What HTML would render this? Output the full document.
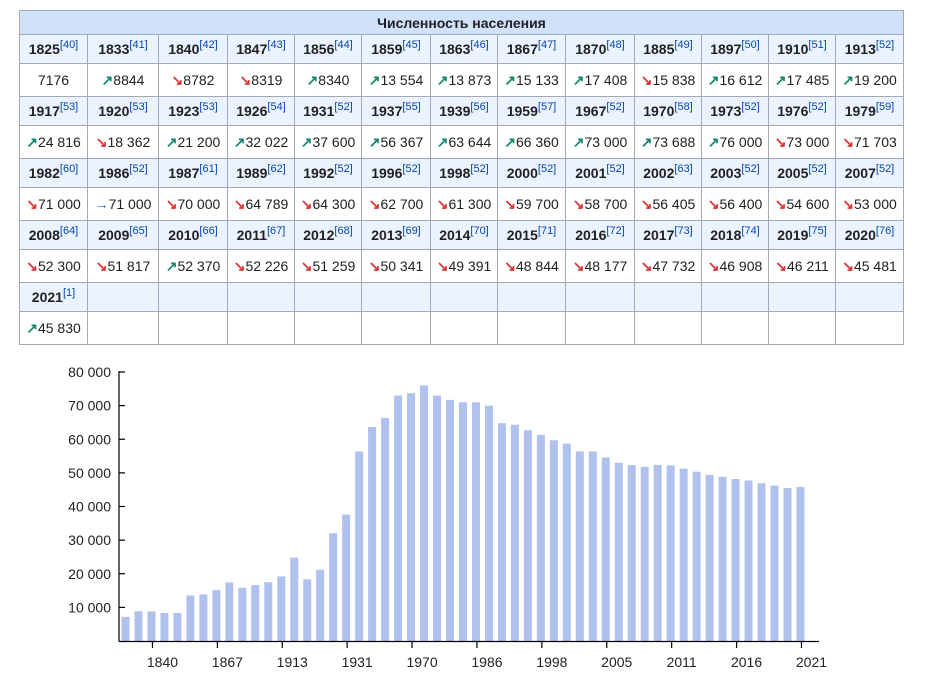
<!DOCTYPE html>
<html><head><meta charset="utf-8">
<style>
body{margin:0;background:#fff;font-family:"Liberation Sans",Arial,sans-serif;color:#202122;}
table{position:absolute;left:19px;top:10px;border-collapse:collapse;table-layout:fixed;font-size:14px;}
td,th{border:1px solid #a2a9b1;text-align:center;padding:0;white-space:nowrap;}
th.h{background:#cfe1fb;height:23px;font-weight:bold;}
tr.y td{background:#eaf3ff;font-weight:bold;height:28px;}
tr.v td{background:#fff;height:32px;}
sup{color:#0645ad;font-weight:normal;font-size:11px;vertical-align:6px;line-height:0}
.u{color:#14866d;font-weight:bold}.d{color:#d33;font-weight:bold}.s{color:#36c}
svg{position:absolute;left:0;top:0}
</style></head><body>
<table>
<colgroup>
<col style="width:68px"><col style="width:71px"><col style="width:69px"><col style="width:67px"><col style="width:67px"><col style="width:69px"><col style="width:67px"><col style="width:68px"><col style="width:69px"><col style="width:67px"><col style="width:67px"><col style="width:67px"><col style="width:68px">
</colgroup>
<tbody id="tb"><tr><th class="h" colspan="13">Численность населения</th></tr></tbody>
</table>
<svg id="chart" width="943" height="689"></svg>
<script>
const years=[1825,1833,1840,1847,1856,1859,1863,1867,1870,1885,1897,1910,1913,1917,1920,1923,1926,1931,1937,1939,1959,1967,1970,1973,1976,1979,1982,1986,1987,1989,1992,1996,1998,2000,2001,2002,2003,2005,2007,2008,2009,2010,2011,2012,2013,2014,2015,2016,2017,2018,2019,2020,2021];
const refs=[40,41,42,43,44,45,46,47,48,49,50,51,52,53,53,53,54,52,55,56,57,52,58,52,52,59,60,52,61,62,52,52,52,52,52,63,52,52,52,64,65,66,67,68,69,70,71,72,73,74,75,76,1];
const population=[7176,8844,8782,8319,8340,13554,13873,15133,17408,15838,16612,17485,19200,24816,18362,21200,32022,37600,56367,63644,66360,73000,73688,76000,73000,71703,71000,71000,70000,64789,64300,62700,61300,59700,58700,56405,56400,54600,53000,52300,51817,52370,52226,51259,50341,49391,48844,48177,47732,46908,46211,45481,45830];
const yTicks=[10000,20000,30000,40000,50000,60000,70000,80000];
const xTickIdx=[2,7,12,17,22,27,32,37,42,47,52];
function fmt(n){return n<10000?String(n):String(n).replace(/\B(?=(\d{3})+(?!\d))/g,' ');}
const tb=document.getElementById('tb');
for(let r=0;r<years.length;r+=13){
  const ty=document.createElement('tr');ty.className='y';
  const tv=document.createElement('tr');tv.className='v';
  for(let c=0;c<13;c++){
    const i=r+c;
    const a=document.createElement('td');const b=document.createElement('td');
    if(i<years.length){
      a.innerHTML=years[i]+'<sup>['+refs[i]+']</sup>';
      let arr='';
      if(i>0){const p=population[i-1],v=population[i];arr=v>p?'<span class="u">↗</span>':v<p?'<span class="d">↘</span>':'<span class="s">→</span>';}
      b.innerHTML=arr+fmt(population[i]);
    }
    
    
    
    
    ty.appendChild(a);tv.appendChild(b);
  }
  tb.appendChild(ty);tb.appendChild(tv);
}
const svg=document.getElementById('chart');const NS='http://www.w3.org/2000/svg';
const y0=641,y1=372,yMax=80000,x0=125.5,pitch=12.98;
const yS=v=>y0-(v/yMax)*(y0-y1);
const xS=i=>x0+i*pitch;
function el(t,a){const e=document.createElementNS(NS,t);for(const k in a)e.setAttribute(k,a[k]);svg.appendChild(e);return e;}
population.forEach((v,i)=>{
  const r=el('rect',{x:xS(i)-4,y:yS(v),width:8,height:y0-yS(v),fill:'#b0c1ee'});
  
  
});
const ya=el('line',{x1:119,y1:y1-1,x2:119,y2:y0+0.5,stroke:'#000','stroke-width':1.2});


const xa=el('line',{x1:119,y1:y0+0.5,x2:819,y2:y0+0.5,stroke:'#000','stroke-width':1.2});


yTicks.forEach(v=>{
  el('line',{x1:119,y1:yS(v),x2:125,y2:yS(v),stroke:'#000','stroke-width':1.2});
  const t=el('text',{x:111,y:yS(v)+5,'text-anchor':'end','font-size':14,fill:'#222'});
  t.textContent=fmt(v);
  
  
});
xTickIdx.forEach(i=>{
  const x=xS(i)+1;
  el('line',{x1:x,y1:y0,x2:x,y2:y0+7,stroke:'#000','stroke-width':1.2});
  const t=el('text',{x:x+10,y:667,'text-anchor':'middle','font-size':14,fill:'#222'});
  t.textContent=years[i];
  
  
});
</script>
</body></html>
